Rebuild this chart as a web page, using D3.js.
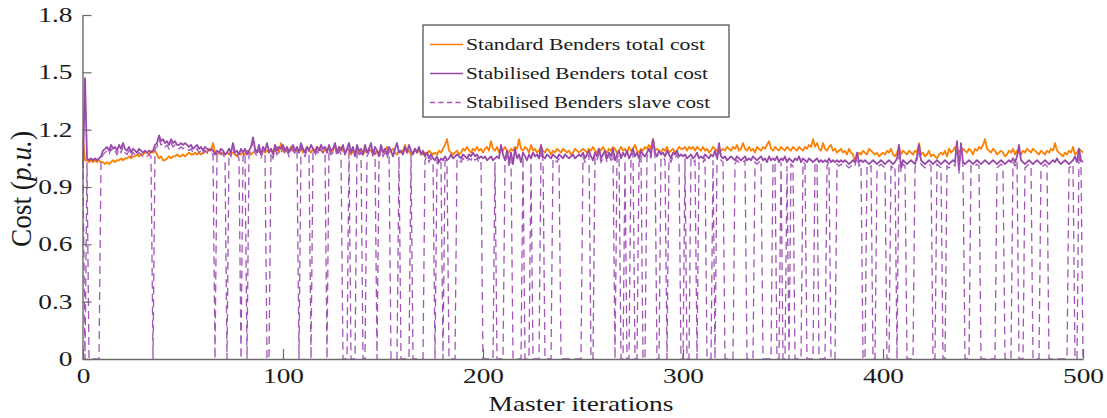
<!DOCTYPE html>
<html><head><meta charset="utf-8">
<script src="https://cdn.jsdelivr.net/npm/d3@7"></script>
<style>
body{margin:0;background:#fff}
svg{display:block}
text{font-family:"Liberation Serif","Times New Roman",serif;fill:#1a1a1a}
</style>
</head><body><svg id="c" width="1107" height="418"></svg>
<script>
const xTicks=[0,100,200,300,400,500];
const yTicks=[0,0.3,0.6,0.9,1.2,1.5,1.8];
const yTickLabels=["0","0.3","0.6","0.9","1.2","1.5","1.8"];
const seriesNames=["Standard Benders total cost","Stabilised Benders total cost","Stabilised Benders slave cost"];

const standardTotal=[
1.15,1.04,1.04,1.03,1.04,1.03,1.04,1.03,1.04,1.03,
1.03,1.02,1.03,1.02,1.03,1.04,1.03,1.04,1.04,1.05,
1.04,1.05,1.05,1.06,1.05,1.06,1.06,1.07,1.06,1.07,
1.07,1.08,1.08,1.07,1.09,1.08,1.09,1.07,1.05,1.06,
1.04,1.04,1.05,1.06,1.05,1.06,1.06,1.07,1.06,1.06,
1.07,1.06,1.07,1.08,1.07,1.07,1.08,1.07,1.08,1.07,
1.08,1.09,1.08,1.10,1.09,1.13,1.08,1.07,1.08,1.07,
1.08,1.07,1.08,1.07,1.08,1.08,1.07,1.06,1.08,1.07,
1.08,1.07,1.09,1.08,1.07,1.08,1.09,1.08,1.10,1.08,
1.09,1.08,1.09,1.08,1.10,1.08,1.09,1.11,1.08,1.13,
1.09,1.08,1.10,1.09,1.11,1.09,1.08,1.10,1.09,1.11,
1.08,1.09,1.11,1.09,1.08,1.10,1.09,1.11,1.10,1.09,
1.08,1.10,1.09,1.11,1.08,1.09,1.12,1.08,1.09,1.11,
1.09,1.08,1.10,1.09,1.07,1.09,1.08,1.10,1.08,1.09,
1.07,1.09,1.08,1.10,1.09,1.08,1.07,1.09,1.08,1.10,
1.08,1.09,1.11,1.08,1.09,1.10,1.08,1.07,1.09,1.08,
1.09,1.12,1.08,1.09,1.07,1.08,1.10,1.08,1.09,1.08,
1.07,1.08,1.07,1.09,1.08,1.07,1.08,1.07,1.09,1.08,
1.10,1.12,1.15,1.09,1.08,1.07,1.08,1.09,1.07,1.08,
1.10,1.09,1.11,1.09,1.08,1.10,1.09,1.11,1.09,1.10,
1.08,1.10,1.11,1.09,1.14,1.10,1.09,1.11,1.08,1.10,
1.09,1.11,1.09,1.08,1.10,1.09,1.11,1.10,1.15,1.10,
1.09,1.11,1.10,1.08,1.12,1.09,1.10,1.08,1.09,1.11,
1.09,1.08,1.10,1.09,1.07,1.09,1.08,1.10,1.09,1.08,
1.10,1.09,1.08,1.09,1.07,1.08,1.10,1.09,1.08,1.09,
1.10,1.09,1.08,1.10,1.09,1.11,1.09,1.08,1.10,1.09,
1.11,1.09,1.08,1.10,1.09,1.11,1.10,1.08,1.09,1.11,
1.09,1.10,1.08,1.11,1.09,1.10,1.12,1.09,1.08,1.10,
1.09,1.11,1.10,1.12,1.10,1.15,1.09,1.10,1.09,1.08,
1.10,1.09,1.11,1.08,1.09,1.10,1.08,1.09,1.11,1.10,
1.10,1.11,1.09,1.11,1.10,1.11,1.09,1.11,1.10,1.09,
1.11,1.09,1.10,1.08,1.09,1.11,1.10,1.09,1.08,1.09,
1.10,1.09,1.11,1.10,1.09,1.11,1.10,1.12,1.09,1.10,
1.13,1.10,1.09,1.11,1.09,1.10,1.08,1.11,1.10,1.09,
1.11,1.10,1.12,1.14,1.10,1.09,1.11,1.10,1.09,1.11,
1.10,1.09,1.11,1.10,1.09,1.11,1.10,1.09,1.11,1.10,
1.09,1.11,1.10,1.12,1.11,1.15,1.11,1.13,1.10,1.09,
1.13,1.10,1.09,1.11,1.12,1.09,1.10,1.08,1.09,1.10,
1.08,1.09,1.07,1.10,1.08,1.07,1.03,1.06,1.08,1.07,
1.09,1.08,1.07,1.10,1.09,1.08,1.07,1.08,1.06,1.07,
1.08,1.07,1.09,1.08,1.10,1.07,1.06,1.08,1.11,1.07,
1.09,1.08,1.07,1.09,1.08,1.07,1.09,1.08,1.13,1.07,
1.08,1.06,1.07,1.09,1.06,1.07,1.06,1.05,1.07,1.08,
1.07,1.09,1.06,1.10,1.08,1.09,1.11,1.07,1.09,1.08,
1.10,1.09,1.08,1.10,1.09,1.07,1.10,1.09,1.11,1.10,
1.12,1.15,1.10,1.09,1.08,1.10,1.09,1.07,1.08,1.09,
1.08,1.06,1.07,1.09,1.08,1.10,1.07,1.09,1.08,1.07,
1.09,1.08,1.10,1.09,1.08,1.10,1.09,1.08,1.07,1.09,
1.08,1.07,1.09,1.08,1.10,1.09,1.13,1.09,1.08,1.07,
1.06,1.08,1.07,1.09,1.08,1.11,1.07,1.08,1.10,1.09,
1.08];

const stabilisedTotal=[
1.00,1.47,1.05,1.04,1.05,1.04,1.05,1.04,1.05,1.06,
1.09,1.10,1.11,1.09,1.12,1.10,1.11,1.09,1.12,1.10,
1.13,1.10,1.09,1.11,1.08,1.10,1.09,1.08,1.10,1.09,
1.08,1.09,1.08,1.09,1.08,1.09,1.12,1.13,1.17,1.14,
1.15,1.13,1.14,1.12,1.15,1.13,1.14,1.12,1.12,1.13,
1.12,1.13,1.12,1.11,1.12,1.10,1.11,1.12,1.10,1.11,
1.09,1.11,1.10,1.09,1.10,1.09,1.07,1.09,1.08,1.10,
1.09,1.07,1.08,1.10,1.08,1.13,1.08,1.09,1.07,1.10,
1.08,1.10,1.07,1.09,1.11,1.16,1.10,1.08,1.12,1.07,
1.11,1.09,1.13,1.08,1.10,1.07,1.12,1.09,1.11,1.10,
1.12,1.09,1.11,1.08,1.10,1.12,1.09,1.11,1.08,1.13,
1.10,1.08,1.11,1.09,1.12,1.10,1.08,1.11,1.09,1.12,
1.10,1.11,1.08,1.12,1.09,1.10,1.13,1.08,1.11,1.09,
1.12,1.07,1.10,1.13,1.08,1.11,1.06,1.12,1.09,1.10,
1.07,1.12,1.08,1.10,1.13,1.07,1.11,1.09,1.06,1.12,
1.08,1.10,1.07,1.11,1.09,1.06,1.10,1.13,1.08,1.09,
1.07,1.11,1.08,1.12,1.09,1.07,1.10,1.08,1.11,1.07,
1.09,1.06,1.08,1.05,1.07,1.05,1.04,1.06,1.03,1.05,
1.04,1.06,1.04,1.05,1.07,1.05,1.06,1.07,1.06,1.05,
1.07,1.06,1.05,1.07,1.06,1.08,1.06,1.07,1.05,1.06,
1.05,1.06,1.04,1.05,1.06,1.04,1.05,1.06,1.05,1.12,
1.07,1.04,1.09,1.03,1.08,1.02,1.10,1.05,1.07,1.03,
1.08,1.06,1.04,1.07,1.05,1.08,1.06,1.07,1.05,1.12,
1.06,1.05,1.07,1.06,1.05,1.07,1.06,1.05,1.07,1.06,
1.05,1.07,1.06,1.05,1.06,1.07,1.05,1.06,1.07,1.06,
1.08,1.05,1.07,1.09,1.06,1.04,1.08,1.06,1.10,1.05,
1.07,1.09,1.05,1.08,1.06,1.10,1.04,1.07,1.09,1.05,
1.08,1.06,1.09,1.05,1.07,1.10,1.06,1.08,1.05,1.09,
1.07,1.06,1.08,1.10,1.07,1.15,1.08,1.06,1.09,1.07,
1.08,1.06,1.09,1.07,1.05,1.08,1.07,1.09,1.06,1.07,
1.06,1.07,1.05,1.06,1.07,1.05,1.06,1.08,1.05,1.06,
1.05,1.07,1.06,1.05,1.07,1.06,1.09,1.05,1.13,1.06,
1.05,1.06,1.04,1.05,1.06,1.05,1.04,1.06,1.05,1.04,
1.05,1.06,1.04,1.05,1.04,1.06,1.05,1.04,1.05,1.06,
1.04,1.05,1.03,1.06,1.04,1.05,1.04,1.06,1.03,1.05,
1.04,1.06,1.03,1.05,1.04,1.03,1.05,1.04,1.06,1.03,
1.05,1.04,1.03,1.05,1.04,1.03,1.04,1.05,1.03,1.04,
1.03,1.04,1.03,1.05,1.03,1.04,1.03,1.04,1.03,1.04,
1.03,1.04,1.03,1.02,1.03,1.04,1.03,1.08,1.03,1.04,
1.03,1.04,1.03,1.02,1.03,1.04,1.03,1.02,1.03,1.04,
1.03,1.02,1.03,1.04,1.03,1.02,1.03,1.05,1.12,1.00,
1.04,1.03,1.02,1.03,1.04,1.03,1.02,1.06,1.12,1.04,
1.03,1.02,1.03,1.04,1.03,1.02,1.03,1.04,1.03,1.02,
1.03,1.04,1.03,1.02,1.03,1.04,1.03,1.14,0.99,1.13,
1.03,1.02,1.03,1.04,1.03,1.02,1.03,1.04,1.03,1.02,
1.03,1.04,1.03,1.02,1.03,1.04,1.03,1.02,1.03,1.04,
1.03,1.02,1.03,1.04,1.03,1.05,1.03,1.06,1.12,1.04,
1.03,1.02,1.03,1.04,1.03,1.02,1.03,1.04,1.03,1.02,
1.03,1.04,1.03,1.02,1.03,1.04,1.03,1.05,1.03,1.02,
1.03,1.04,1.03,1.02,1.03,1.04,1.06,1.03,1.10,1.04,
1.03];

const stabilisedSlave=[
0.98,0,1.03,0,0,0,0,0,0,1.04,
1.07,1.08,1.09,1.07,1.10,1.08,1.09,1.07,1.10,1.08,
1.11,1.08,1.07,1.09,1.06,1.08,1.07,1.06,1.08,1.07,
1.06,1.07,1.06,1.07,1.06,0,1.10,1.11,1.15,1.12,
1.13,1.11,1.12,1.10,1.13,1.11,1.12,1.10,1.10,1.11,
1.10,1.11,1.10,1.09,1.10,1.08,1.09,1.10,1.08,1.09,
1.07,1.09,1.08,1.07,1.08,1.07,0,1.07,1.06,1.08,
1.07,1.05,0,1.08,1.06,1.11,1.06,1.07,1.05,0,
1.06,1.08,0,1.07,1.09,1.14,1.08,1.06,1.10,1.05,
1.09,1.07,0,0,1.08,1.05,1.10,1.07,1.09,1.08,
1.10,1.07,1.09,1.06,1.08,1.10,1.07,1.09,0,1.11,
1.08,1.06,1.09,1.07,0,1.08,1.06,1.09,1.07,1.10,
1.08,1.09,0,1.10,1.07,1.08,1.11,1.06,1.09,1.07,
0,0,0,1.11,0,0,0,1.10,1.07,1.08,
0,0,1.06,1.08,1.11,1.05,1.09,0,1.04,1.10,
1.06,1.08,1.05,1.09,0,0,0,0,1.06,0,
0,0,0,0,1.07,0,0,0,0,0,
0,1.04,1.06,1.03,1.05,1.03,0,1.04,1.01,1.03,
0,1.04,1.02,0,0,0,0,1.05,1.04,1.03,
1.05,1.04,1.03,1.05,1.04,1.06,1.04,1.05,1.03,1.04,
0,0,0,0,0,0,1.03,0,0,0,
0,1.02,1.07,1.01,1.06,0,0,0,0,0,
1.06,0,0,0,1.03,0,0,0,0,1.10,
1.04,0,0,0,0,1.05,1.04,1.03,1.05,0,
0,0,0,0,0,0,0,0,0,0,
1.06,1.03,1.05,1.07,0,0,1.06,1.04,1.08,1.03,
1.05,1.07,1.03,1.06,1.04,1.08,0,1.05,1.07,0,
0,1.04,0,0,1.05,1.08,0,0,1.03,1.07,
0,0,1.06,1.08,1.05,1.13,1.06,0,0,1.05,
1.06,1.04,0,1.05,1.03,1.06,1.05,1.07,1.04,0,
0,1.05,0,0,1.05,1.03,1.04,0,1.03,1.04,
1.03,1.05,0,0,0,1.04,0,1.03,1.11,1.04,
1.03,0,0,0,0,0,1.02,1.04,1.03,1.02,
1.03,1.04,0,0,0,0,1.03,1.02,1.03,1.04,
0,0,0,0,0,1.03,1.02,0,0,1.03,
0,0,1.01,0,1.02,1.01,0,0,0,0,
1.03,1.02,0,0,0,0,1.02,1.03,0,0,
0,0,1.01,1.03,0,0,0,1.02,1.01,1.02,
1.01,1.02,1.01,1.00,1.01,1.02,1.01,1.06,1.01,1.02,
0,0,1.01,1.00,1.01,0,0,1.00,1.01,1.02,
1.01,1.00,0,0,1.01,1.00,1.01,0,1.10,0.98,
1.02,1.01,0,0,0,0,1.00,1.04,1.10,1.02,
1.01,1.00,1.01,1.02,1.01,0,0,1.02,1.01,1.00,
0,0,1.01,1.00,1.01,1.02,1.01,1.12,0.97,1.11,
1.01,0,0,0,1.01,1.00,1.01,1.02,1.01,0,
0,0,0,0,0,0,0,1.00,1.01,1.02,
1.01,0,0,0,0,1.03,1.01,1.04,0,0,
0,1.00,1.01,1.02,1.01,0,0,0,0,1.00,
1.01,1.02,1.01,0,0,0,0,0,0,0,
0,0,0,1.00,1.01,1.02,0,0,1.08,1.02,
0];

const colors={std:"#ff8000",stab:"#9848ab",slave:"#a256b5",axis:"#6a6a6a"};

const svg=d3.select("#c");
const x=d3.scaleLinear().domain([0,500]).range([83,1083]);
const y=d3.scaleLinear().domain([0,1.8]).range([359,15]);
const HS=1.37; // horizontal stretch of the reference's typesetting

// stretch an element horizontally about local x = ax
function hstretch(el,k,ax){
  el.setAttribute("transform",`translate(${(ax*(1-k)).toFixed(2)},0) scale(${k},1)`);
}

// data lines
const line=d3.line().x((d,i)=>x(i)).y(d=>y(d));
svg.append("path").datum(standardTotal).attr("d",line)
  .attr("fill","none").attr("stroke",colors.std).attr("stroke-width",1.8).attr("stroke-linejoin","round");
svg.append("path").datum(stabilisedTotal).attr("d",line)
  .attr("fill","none").attr("stroke",colors.stab).attr("stroke-width",1.8).attr("stroke-linejoin","round");
svg.append("path").datum(stabilisedSlave).attr("d",line)
  .attr("fill","none").attr("stroke",colors.slave).attr("stroke-width",1.3)
  .attr("stroke-dasharray","8,5");

// axes
const gx=svg.append("g").attr("transform","translate(0,359)")
  .call(d3.axisBottom(x).tickValues(xTicks).tickSize(-10).tickSizeOuter(0).tickPadding(10));
const gy=svg.append("g").attr("transform","translate(82.5,0)")
  .call(d3.axisLeft(y).tickValues(yTicks).tickFormat((d,i)=>yTickLabels[i]).tickSize(-9).tickSizeOuter(0).tickPadding(10));
[gx,gy].forEach(g=>{
  g.select(".domain").attr("stroke",colors.axis).attr("stroke-width",1.4);
  g.selectAll(".tick line").attr("stroke",colors.axis).attr("stroke-width",1.2);
  g.selectAll(".tick text").attr("font-size",20).attr("fill","#1a1a1a")
    .attr("font-family","'Liberation Serif',serif");
});
gx.selectAll(".tick text").attr("dy","0.71em").each(function(){hstretch(this,HS,0);});
gy.selectAll(".tick text").each(function(){hstretch(this,HS,+this.getAttribute("x"));});

// axis titles
svg.append("text").attr("x",581).attr("y",411).attr("text-anchor","middle")
  .attr("font-size",20).text("Master iterations")
  .each(function(){hstretch(this,HS,581);});
const yl=svg.append("text").attr("transform","translate(31,189) scale(1.37,1) rotate(-90)")
  .attr("text-anchor","middle").attr("font-size",21)
  .attr("textLength",116).attr("lengthAdjust","spacingAndGlyphs");
yl.append("tspan").text("Cost (");
yl.append("tspan").attr("font-style","italic").text("p.u.");
yl.append("tspan").text(")");

// legend
const lg=svg.append("g");
lg.append("rect").attr("x",423).attr("y",25).attr("width",306).attr("height",92)
  .attr("fill","#fff").attr("stroke","#555").attr("stroke-width",1.3);
const rows=[{c:colors.std,d:null,w:239},{c:colors.stab,d:null,w:242},{c:colors.slave,d:"5,3.5",w:244}];
rows.forEach((r,i)=>{
  const yy=44.5+i*29;
  lg.append("line").attr("x1",430).attr("x2",463).attr("y1",yy).attr("y2",yy)
    .attr("stroke",r.c).attr("stroke-width",1.5).attr("stroke-dasharray",r.d);
  lg.append("text").attr("x",466).attr("y",yy+5.5).attr("font-size",16.5)
    .attr("textLength",r.w).attr("lengthAdjust","spacingAndGlyphs").text(seriesNames[i]);
});
</script>
</body></html>
